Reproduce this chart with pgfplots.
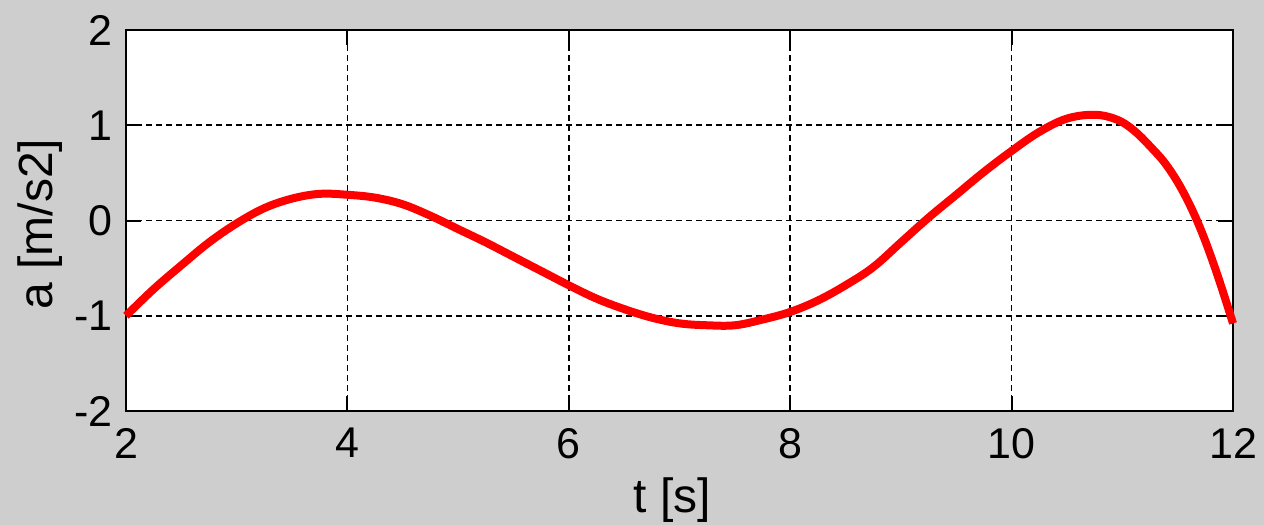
\documentclass[border=0pt]{standalone}
\usepackage{fontspec}
\setmainfont{Liberation Sans}
\usepackage{pgfplots}
\pgfplotsset{compat=1.18}
\definecolor{figgray}{RGB}{206,206,206}

\begin{document}
\begin{tikzpicture}
% figure background
\fill[figgray] (0,0) rectangle (632bp,262.5bp);
\begin{axis}[
  at={(63bp,57bp)}, anchor=south west,
  scale only axis,
  width=553.5bp, height=190.5bp,
  xmin=2, xmax=12, ymin=-2, ymax=2,
  xtick={2,4,6,8,10,12}, xticklabels={2,4,6,8,10,12},
  ytick={-2,-1,0,1,2}, yticklabels={-2,-1,0,1,2},
  axis background/.style={fill=white},
  axis line style={black, line width=1bp},
  tick align=inside,
  major tick length=7.5bp,
  tick style={black, line width=1bp},
  grid=major,
  major grid style={black, line width=0.8bp, dash pattern=on 3bp off 2bp},
  ticklabel style={font=\fontsize{21.5bp}{24bp}\selectfont, inner sep=0pt},
  xticklabel style={anchor=north, yshift=-8.5bp},
  yticklabel style={anchor=east, xshift=-6.5bp},
  xlabel={t [s]}, ylabel={a [m/s2]},
  label style={font=\fontsize{24bp}{28bp}\selectfont, inner sep=0pt},
  xlabel style={at={(axis description cs:0.4937,-0.2651)}, anchor=base},
  ylabel style={at={(axis description cs:-0.0668,0.4908)}, anchor=base},
  clip=false,
]
\addplot[red, line width=4bp, smooth, tension=0.6] table {
t a
2.00 -1.00
2.25 -0.72
2.50 -0.47
2.75 -0.23
3.00 -0.03
3.25 0.13
3.50 0.23
3.75 0.28
4.00 0.27
4.25 0.24
4.50 0.17
4.75 0.05
5.00 -0.09
5.25 -0.23
5.50 -0.38
5.75 -0.53
6.00 -0.68
6.25 -0.82
6.50 -0.93
6.75 -1.02
7.00 -1.08
7.25 -1.10
7.50 -1.10
7.75 -1.04
8.00 -0.96
8.25 -0.84
8.50 -0.68
8.75 -0.49
9.00 -0.23
9.25 0.03
9.50 0.27
9.75 0.51
10.00 0.73
10.25 0.93
10.50 1.07
10.75 1.11
10.95 1.06
11.10 0.95
11.25 0.78
11.40 0.58
11.55 0.30
11.70 -0.07
11.85 -0.54
12.00 -1.08
};
\end{axis}
\end{tikzpicture}
\end{document}
